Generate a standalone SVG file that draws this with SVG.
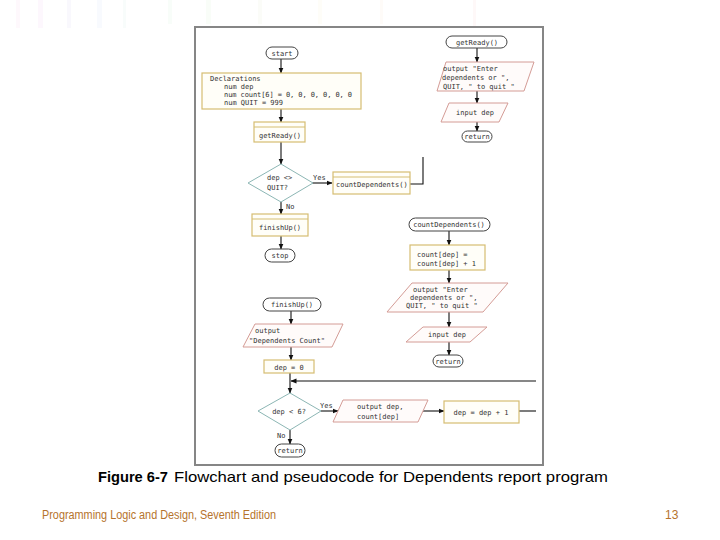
<svg xmlns="http://www.w3.org/2000/svg" width="720" height="540" viewBox="0 0 720 540">
<defs>
<marker id="ah" markerWidth="6" markerHeight="6" refX="5.5" refY="3" orient="auto" markerUnits="userSpaceOnUse">
<path d="M0,0.5 L6,3 L0,5.5 Z" fill="#111"/>
</marker>
<style>
.t{font-family:"DejaVu Sans Mono","Liberation Mono",monospace;font-size:7px;fill:#333}
.m{text-anchor:middle}
.term{fill:#fff;stroke:#444;stroke-width:1}
.proc{fill:#fffef8;stroke:#d6bd72;stroke-width:1.2}
.dia{fill:#fff;stroke:#8cb6b4;stroke-width:1}
.io{fill:#fffbfa;stroke:#d49c96;stroke-width:1}
.c{stroke:#111;stroke-width:1.1;fill:none}
.a{marker-end:url(#ah)}
.streak{opacity:0.07}
</style>
</defs>
<rect width="720" height="540" fill="#fff"/>
<g id="streaks">
<rect class="streak" x="16" y="0" width="4" height="28" fill="#f0a0d0"/>
<rect class="streak" x="38" y="0" width="5" height="28" fill="#e090e0"/>
<rect class="streak" x="67" y="0" width="4" height="28" fill="#b0a0e0"/>
<rect class="streak" x="97" y="0" width="5" height="28" fill="#a0b8f0"/>
<rect class="streak" x="123" y="0" width="3" height="28" fill="#a0d8c8"/>
<rect class="streak" x="168" y="0" width="4" height="24" fill="#a0e0b0"/>
<rect class="streak" x="206" y="0" width="5" height="24" fill="#b0e0a0"/>
<rect class="streak" x="258" y="0" width="4" height="24" fill="#c0d8a0"/>
<rect class="streak" x="318" y="0" width="4" height="24" fill="#f0e0a0"/>
<rect class="streak" x="380" y="0" width="3" height="24" fill="#f0c0a0"/>
<rect class="streak" x="473" y="0" width="3" height="28" fill="#f0a0a0"/>
</g>
<rect id="frame" x="195" y="27" width="348" height="438" fill="#fff" stroke="#868686" stroke-width="2"/>

<g id="connectors">
<line class="c a" x1="281" y1="59" x2="281" y2="73"/>
<line class="c a" x1="281" y1="109" x2="281" y2="122"/>
<line class="c a" x1="281" y1="142" x2="281" y2="164"/>
<line class="c a" x1="312" y1="183" x2="332" y2="183"/>
<line class="c a" x1="281" y1="202" x2="281" y2="214"/>
<line class="c a" x1="281" y1="236" x2="281" y2="249"/>
<polyline class="c" points="410,184 423,184 423,157"/>
<line class="c a" x1="477" y1="48" x2="477" y2="62"/>
<line class="c a" x1="477" y1="91" x2="477" y2="103"/>
<line class="c a" x1="477" y1="122" x2="477" y2="131"/>
<line class="c a" x1="449" y1="231" x2="449" y2="245"/>
<line class="c a" x1="449" y1="270" x2="449" y2="283"/>
<line class="c a" x1="449" y1="312" x2="449" y2="327"/>
<line class="c a" x1="449" y1="342" x2="449" y2="355"/>
<line class="c a" x1="291" y1="311" x2="291" y2="324"/>
<line class="c a" x1="291" y1="347" x2="291" y2="360"/>
<line class="c a" x1="290" y1="373" x2="290" y2="393"/>
<line class="c a" x1="536" y1="381" x2="291" y2="381"/>
<line class="c a" x1="321" y1="411" x2="338" y2="411"/>
<line class="c a" x1="423" y1="411" x2="444" y2="411"/>
<line class="c" x1="519" y1="411" x2="536" y2="411"/>
<line class="c a" x1="290" y1="430" x2="290" y2="444"/>
</g>

<g id="start"><rect class="term" x="266" y="47" width="32" height="12" rx="6"/><text class="t m" x="282" y="55.5">start</text></g>
<g id="declarations"><rect class="proc" x="202" y="73" width="159" height="36"/>
<text class="t" x="210" y="81">Declarations</text>
<text class="t" x="224" y="89">num dep</text>
<text class="t" x="224" y="97" textLength="128">num count[6] = 0, 0, 0, 0, 0, 0</text>
<text class="t" x="224" y="105">num QUIT = 999</text></g>
<g id="getReadyCall"><rect class="proc" x="254" y="122" width="51" height="20"/><line class="proc" x1="254" y1="127" x2="305" y2="127"/><text class="t m" x="280" y="137.5">getReady()</text></g>
<g id="decision1"><polygon class="dia" points="281,164 313,183 281,202 248,183"/><text class="t" x="267" y="180">dep &lt;&gt;</text><text class="t" x="267" y="190">QUIT?</text></g>
<text class="t" x="313" y="180">Yes</text>
<g id="countDependentsCall"><rect class="proc" x="333" y="172" width="77" height="22"/><line class="proc" x1="333" y1="177" x2="410" y2="177"/><text class="t" x="336" y="187">countDependents()</text></g>
<text class="t" x="286" y="209">No</text>
<g id="finishUpCall"><rect class="proc" x="252" y="214" width="56" height="22"/><line class="proc" x1="252" y1="219" x2="308" y2="219"/><text class="t m" x="280" y="230">finishUp()</text></g>
<g id="stop"><rect class="term" x="265" y="249" width="30" height="13" rx="6.5"/><text class="t m" x="280" y="258">stop</text></g>

<g id="getReadyStart"><rect class="term" x="446" y="36" width="61" height="12" rx="6"/><text class="t m" x="477" y="44.5">getReady()</text></g>
<g id="outputPrompt1"><polygon class="io" points="446,62 534,62 524,91 437,91"/>
<text class="t" x="443" y="71">output "Enter</text>
<text class="t" x="442" y="80">dependents or ",</text>
<text class="t" x="443" y="89">QUIT, " to quit "</text></g>
<g id="inputDep1"><polygon class="io" points="449,103 508,103 499,122 441,122"/><text class="t m" x="475" y="115">input dep</text></g>
<g id="return1"><rect class="term" x="462" y="131" width="30" height="11" rx="5.5"/><text class="t m" x="477" y="139">return</text></g>

<g id="countDependentsStart"><rect class="term" x="409" y="218" width="81" height="13" rx="6.5"/><text class="t m" x="449" y="227">countDependents()</text></g>
<g id="increment"><rect class="proc" x="410" y="245" width="75" height="25"/><text class="t" x="417" y="257">count[dep] =</text><text class="t" x="417" y="266">count[dep] + 1</text></g>
<g id="outputPrompt2"><polygon class="io" points="412,283 508,283 483,312 387,312"/>
<text class="t" x="413" y="292">output "Enter</text>
<text class="t" x="410" y="300">dependents or ",</text>
<text class="t" x="406" y="308">QUIT, " to quit "</text></g>
<g id="inputDep2"><polygon class="io" points="423,327 487,327 470,342 406,342" stroke="#e2c0bc"/><text class="t m" x="447" y="337">input dep</text></g>
<g id="return2"><rect class="term" x="433" y="355" width="30" height="12" rx="6"/><text class="t m" x="448" y="363.5">return</text></g>

<g id="finishUpStart"><rect class="term" x="263" y="298" width="58" height="13" rx="6.5"/><text class="t m" x="292" y="307">finishUp()</text></g>
<g id="outputHeading"><polygon class="io" points="255,324 343,324 332,347 243,347"/><text class="t" x="255" y="333">output</text><text class="t" x="249" y="343">"Dependents Count"</text></g>
<g id="depZero"><rect class="proc" x="264" y="360" width="50" height="13"/><text class="t m" x="289" y="369.5">dep = 0</text></g>
<g id="decision2"><polygon class="dia" points="290,393 321,411 290,430 258,411"/><text class="t m" x="289" y="414">dep &lt; 6?</text></g>
<text class="t" x="320" y="408">Yes</text>
<g id="outputCount"><polygon class="io" points="343,400 428,400 418,422 333,422"/><text class="t" x="357" y="409">output dep,</text><text class="t" x="357" y="419">count[dep]</text></g>
<g id="depIncrement"><rect class="proc" x="444" y="401" width="75" height="22"/><text class="t m" x="481" y="414.5">dep = dep + 1</text></g>
<text class="t" x="277" y="438">No</text>
<g id="return3"><rect class="term" x="275" y="444" width="30" height="13" rx="6.5"/><text class="t m" x="290" y="453">return</text></g>

<text x="98" y="482" font-family="Liberation Sans,Arial,sans-serif" font-size="15" font-weight="bold" fill="#000" textLength="70" lengthAdjust="spacingAndGlyphs">Figure 6-7</text>
<text x="174" y="482" font-family="Liberation Sans,Arial,sans-serif" font-size="15" fill="#000" textLength="434" lengthAdjust="spacingAndGlyphs">Flowchart and pseudocode for Dependents report program</text>
<text x="42" y="519" font-family="Liberation Sans,Arial,sans-serif" font-size="12" fill="#b5732c" textLength="234" lengthAdjust="spacingAndGlyphs">Programming Logic and Design, Seventh Edition</text>
<text x="665" y="519" font-family="Liberation Sans,Arial,sans-serif" font-size="12" fill="#b5732c">13</text>
</svg>
